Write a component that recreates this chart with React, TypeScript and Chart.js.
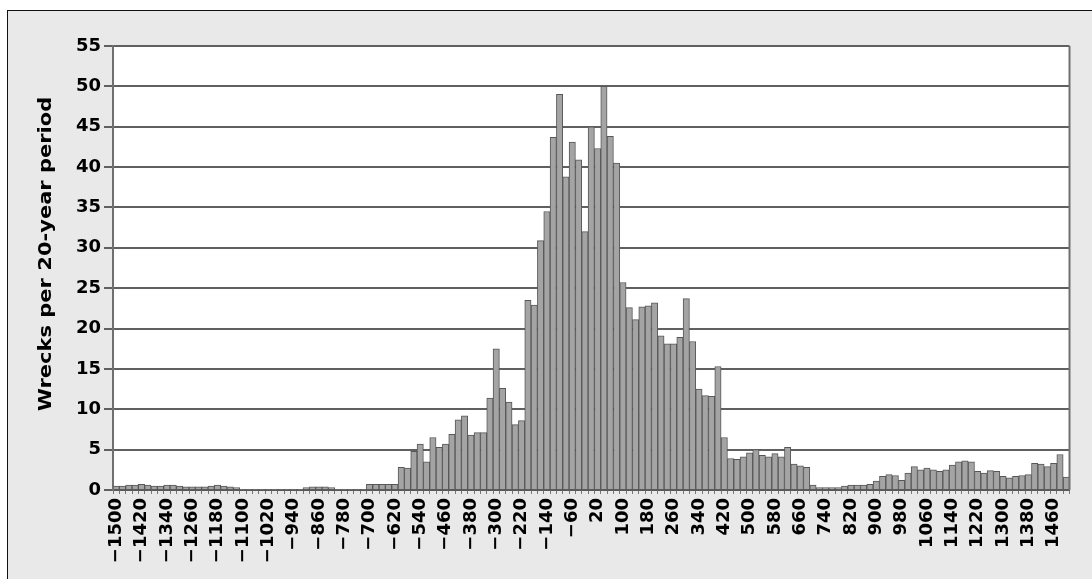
import React, { useEffect, useRef } from 'react';
import { Chart, registerables } from 'chart.js';

Chart.register(...registerables);

const FONT_FAMILY = '"DejaVu Sans", Verdana, sans-serif';

const Y_TITLE = 'Wrecks per 20-year period';

const YEARS = [
  -1500, -1480, -1460, -1440, -1420, -1400, -1380, -1360, -1340, -1320,
  -1300, -1280, -1260, -1240, -1220, -1200, -1180, -1160, -1140, -1120,
  -1100, -1080, -1060, -1040, -1020, -1000, -980, -960, -940, -920,
  -900, -880, -860, -840, -820, -800, -780, -760, -740, -720,
  -700, -680, -660, -640, -620, -600, -580, -560, -540, -520,
  -500, -480, -460, -440, -420, -400, -380, -360, -340, -320,
  -300, -280, -260, -240, -220, -200, -180, -160, -140, -120,
  -100, -80, -60, -40, -20, 0, 20, 40, 60, 80,
  100, 120, 140, 160, 180, 200, 220, 240, 260, 280,
  300, 320, 340, 360, 380, 400, 420, 440, 460, 480,
  500, 520, 540, 560, 580, 600, 620, 640, 660, 680,
  700, 720, 740, 760, 780, 800, 820, 840, 860, 880,
  900, 920, 940, 960, 980, 1000, 1020, 1040, 1060, 1080,
  1100, 1120, 1140, 1160, 1180, 1200, 1220, 1240, 1260, 1280,
  1300, 1320, 1340, 1360, 1380, 1400, 1420, 1440, 1460, 1480,
  1500,
];

const WRECKS = [
  0.5, 0.5, 0.6, 0.6, 0.7, 0.6, 0.5, 0.5, 0.6, 0.6,
  0.5, 0.4, 0.4, 0.4, 0.4, 0.5, 0.6, 0.5, 0.4, 0.3,
  0.1, 0.1, 0.1, 0.1, 0.1, 0.1, 0.1, 0.1, 0.1, 0.1,
  0.3, 0.4, 0.4, 0.4, 0.3, 0.1, 0.1, 0.1, 0.1, 0.1,
  0.7, 0.7, 0.7, 0.7, 0.7, 2.8, 2.7, 4.8, 5.7, 3.5,
  6.5, 5.3, 5.7, 6.9, 8.7, 9.2, 6.8, 7.1, 7.1, 11.4,
  17.5, 12.6, 10.9, 8.1, 8.6, 23.5, 22.9, 30.9, 34.5, 43.7,
  49.0, 38.8, 43.1, 40.9, 32.0, 45.0, 42.3, 50.0, 43.8, 40.5,
  25.7, 22.6, 21.1, 22.7, 22.8, 23.2, 19.1, 18.1, 18.1, 18.9,
  23.7, 18.4, 12.5, 11.7, 11.6, 15.3, 6.5, 3.9, 3.8, 4.1,
  4.6, 5.0, 4.3, 4.1, 4.5, 4.1, 5.3, 3.2, 3.0, 2.8,
  0.6, 0.3, 0.3, 0.3, 0.3, 0.5, 0.6, 0.6, 0.6, 0.7,
  1.1, 1.7, 1.9, 1.8, 1.2, 2.1, 2.9, 2.5, 2.7, 2.5,
  2.3, 2.5, 3.1, 3.5, 3.6, 3.5, 2.3, 2.1, 2.4, 2.3,
  1.7, 1.5, 1.7, 1.8, 1.9, 3.3, 3.2, 2.9, 3.3, 4.4,
  1.6,
];

const TICK_YEARS = [
  -1500, -1420, -1340, -1260, -1180, -1100, -1020, -940, -860, -780,
  -700, -620, -540, -460, -380, -300, -220, -140, -60, 20,
  100, 180, 260, 340, 420, 500, 580, 660, 740, 820,
  900, 980, 1060, 1140, 1220, 1300, 1380, 1460,
];

const Y_MIN = 0;
const Y_MAX = 55;
const Y_STEP = 5;

function fmtYear(y: number): string {
  return y < 0 ? '\u2212' + Math.abs(y) : String(y);
}

const framePlugin = {
  id: 'framePlugin',
  beforeDraw(chart: any) {
    const { ctx, chartArea: a } = chart;
    ctx.save();
    ctx.fillStyle = '#ffffff';
    ctx.fillRect(a.left, a.top, a.right - a.left, a.bottom - a.top);
    ctx.restore();
  },
  afterDraw(chart: any) {
    const { ctx, chartArea: a } = chart;
    ctx.save();
    ctx.strokeStyle = '#707070';
    ctx.lineWidth = 2;
    ctx.beginPath();
    ctx.moveTo(a.right, a.top);
    ctx.lineTo(a.right, a.bottom);
    ctx.stroke();
    ctx.translate(46, 254);
    ctx.rotate(-Math.PI / 2);
    ctx.scale(1, 0.85);
    ctx.font = 'bold 21px ' + FONT_FAMILY;
    ctx.fillStyle = '#000000';
    ctx.textAlign = 'center';
    ctx.textBaseline = 'middle';
    ctx.fillText(Y_TITLE, 0, 0);
    ctx.restore();
  },
};

export default function App() {
  const ref = useRef<HTMLCanvasElement | null>(null);

  useEffect(() => {
    if (!ref.current) return;
    const chart = new Chart(ref.current, {
      type: 'bar',
      data: {
        labels: YEARS.map(fmtYear),
        datasets: [
          {
            data: WRECKS,
            backgroundColor: '#a4a4a4',
            borderColor: '#575757',
            borderWidth: 1,
            barPercentage: 1,
            categoryPercentage: 1,
          },
        ],
      },
      options: {
        responsive: false,
        animation: false,
        devicePixelRatio: 1,
        layout: { padding: { left: 35, right: 19, top: 46, bottom: 0 } },
        plugins: {
          legend: { display: false },
          tooltip: { enabled: false },
        },
        scales: {
          x: {
            grid: {
              display: true,
              drawOnChartArea: false,
              drawTicks: true,
              tickLength: 4,
              color: '#777777',
              lineWidth: 1,
            },
            border: { display: true, color: '#5a5a5a', width: 2 },
            ticks: {
              autoSkip: false,
              maxRotation: 90,
              minRotation: 90,
              padding: 4,
              color: '#000000',
              font: { family: FONT_FAMILY, size: 18, weight: 'bold' },
              callback: (_v: any, i: number) =>
                TICK_YEARS.includes(YEARS[i]) ? fmtYear(YEARS[i]) : '',
            },
            afterFit: (s: any) => {
              s.height = 89;
            },
          },
          y: {
            min: Y_MIN,
            max: Y_MAX,
            ticks: {
              stepSize: Y_STEP,
              padding: 3,
              color: '#000000',
              font: { family: FONT_FAMILY, size: 18, weight: 'bold' },
            },
            grid: { color: '#606060', lineWidth: 2, tickLength: 9 },
            border: { display: true, color: '#707070', width: 2 },
            afterFit: (s: any) => {
              s.width = 78;
            },
          },
        },
      } as any,
      plugins: [framePlugin],
    });
    return () => chart.destroy();
  }, []);

  return (
    <div
      style={{
        position: 'fixed',
        left: 0,
        top: 0,
        width: 1092,
        height: 579,
        overflow: 'hidden',
        background: '#ffffff',
      }}
    >
      <div
        style={{
          position: 'absolute',
          left: 7,
          top: 10,
          width: 1085,
          height: 569,
          background: '#e9e9e9',
          borderTop: '1px solid #111',
          borderLeft: '1px solid #111',
          boxSizing: 'border-box',
        }}
      />
      <canvas
        ref={ref}
        width={1092}
        height={579}
        style={{ position: 'absolute', left: 0, top: 0, width: 1092, height: 579 }}
      />
    </div>
  );
}
